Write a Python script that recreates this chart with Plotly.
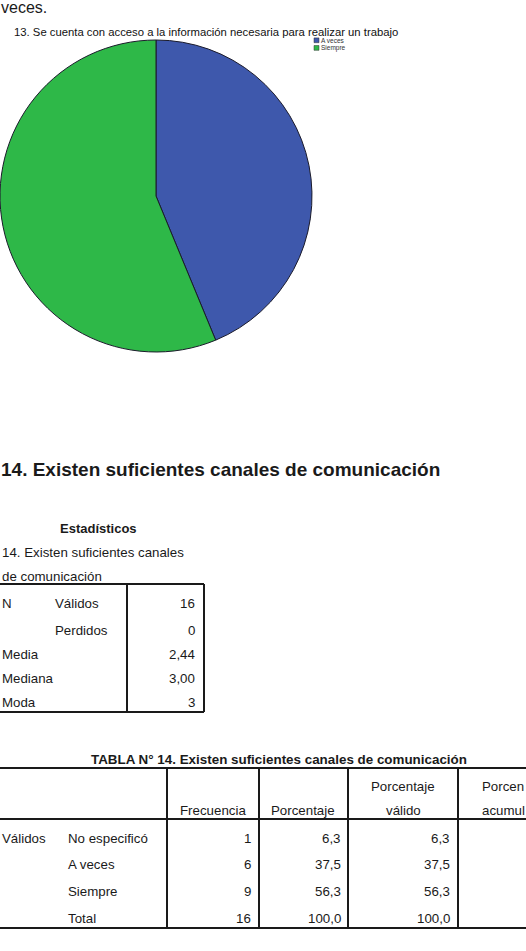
import plotly.graph_objects as go

W, H = 526, 951

# ---------------- data ----------------
pie_title = "13. Se cuenta con acceso a la información necesaria para realizar un trabajo"
pie_labels = ["A veces", "Siempre"]
pie_values = [7, 9]
pie_colors = ["#3E58AC", "#2EB848"]

heading = "14. Existen suficientes canales de comunicación"

stats_title = "Estadísticos"
stats_var = ["14. Existen suficientes canales", "de comunicación"]
stats_row_labels = ["N", "", "Media", "Mediana", "Moda"]
stats_sub_labels = ["Válidos", "Perdidos", "", "", ""]
stats_values = ["16", "0", "2,44", "3,00", "3"]

freq_title = "TABLA N° 14. Existen suficientes canales de comunicación"
freq_group = ["Válidos", "", "", ""]
freq_categories = ["No especificó", "A veces", "Siempre", "Total"]
freq_frecuencia = ["1", "6", "9", "16"]
freq_porcentaje = ["6,3", "37,5", "56,3", "100,0"]
freq_valido = ["6,3", "37,5", "56,3", "100,0"]
# last column is cut by the page edge in the reference: only its visible part is shown
freq_headers = [["", "Frecuencia"], ["", "Porcentaje"], ["Porcentaje", "válido"], ["Porcen", "acumul"]]

# ---------------- helpers ----------------
FONT = "Liberation Sans, Arial, sans-serif"
INK = "#1a1a1a"
FS = 13.3


def px(x):
    return x / W


def py(y):
    return 1 - y / H


annotations = []
shapes = []


def text(x, y, s, size=FS, anchor="left", bold=False, color=INK, pad=1):
    if bold:
        s = "<b>" + s + "</b>"
    annotations.append(dict(
        x=px(x), y=py(y), xref="paper", yref="paper", text=s, showarrow=False,
        xanchor=anchor, yanchor="middle", borderpad=pad,
        font=dict(family=FONT, size=size, color=color),
    ))


def hline(x0, x1, y, w=2):
    shapes.append(dict(type="line", xref="paper", yref="paper", x0=px(x0), x1=px(x1),
                       y0=py(y), y1=py(y), line=dict(color=INK, width=w)))


def vline(x, y0, y1, w=2):
    shapes.append(dict(type="line", xref="paper", yref="paper", x0=px(x), x1=px(x),
                       y0=py(y0), y1=py(y1), line=dict(color=INK, width=w)))


def rect(x0, y0, x1, y1, color):
    shapes.append(dict(type="rect", xref="paper", yref="paper", x0=px(x0), x1=px(x1),
                       y0=py(y1), y1=py(y0), fillcolor=color, line=dict(color="#333", width=0.5)))


fig = go.Figure()

# ---------------- pie ----------------
pie_left, pie_top, pie_size = 0, 40, 312
fig.add_trace(go.Pie(
    labels=pie_labels, values=pie_values, sort=False, direction="clockwise", rotation=0,
    marker=dict(colors=pie_colors, line=dict(color="#1b1b2b", width=1)),
    textinfo="none", hoverinfo="label+value", showlegend=False,
    domain=dict(x=[px(pie_left), px(pie_left + pie_size)], y=[py(pie_top + pie_size), py(pie_top)]),
))

# leading text fragment from previous paragraph
text(-1, 8, "veces.", size=16)
# pie title
text(12, 32, pie_title, size=11.3, color="#111")
# manual legend
for i, (lab, col) in enumerate(zip(pie_labels, pie_colors)):
    yc = 40.3 + i * 7.6
    rect(314, yc - 2.4, 319, yc + 2.4, col)
    text(319.5, yc, lab, size=6.5, color="#333", pad=0)

# ---------------- heading ----------------
text(-1, 469, heading, size=19, bold=True)

# ---------------- stats table ----------------
text(98, 528, stats_title, size=13, anchor="center", bold=True)
text(0, 552, stats_var[0])
text(0, 576, stats_var[1])
stats_top, stats_bot = 584, 712
hline(0, 204, stats_top)
hline(0, 204, stats_bot)
vline(127, stats_top, stats_bot)
vline(204, stats_top, stats_bot)
stats_rows_y = [603, 630, 654, 678, 702]
for yy, lab, sub, val in zip(stats_rows_y, stats_row_labels, stats_sub_labels, stats_values):
    text(0, yy, lab)
    text(53, yy, sub)
    text(197, yy, val, anchor="right")

# ---------------- frequency table ----------------
text(279, 759, freq_title, size=13.4, anchor="center", bold=True)
t_top, t_head, t_bot = 768, 819, 928
col_edges = [167, 259, 348, 458]
hline(0, W, t_top)
hline(0, W, t_head)
hline(0, W, t_bot)
for xe in col_edges:
    vline(xe, t_top, t_bot)
header_x = [213, 303, 403, 480]
for i, (h1, h2) in enumerate(freq_headers):
    anchor = "left" if i == len(freq_headers) - 1 else "center"
    if h1:
        text(header_x[i], 786, h1, anchor=anchor)
    text(header_x[i], 810, h2, anchor=anchor)
rows_y = [838, 864, 891, 918]
for yy, g, cat, f, p, v in zip(rows_y, freq_group, freq_categories, freq_frecuencia,
                               freq_porcentaje, freq_valido):
    text(0, yy, g)
    text(66, yy, cat)
    text(253, yy, f, anchor="right")
    text(343, yy, p, anchor="right")
    text(452, yy, v, anchor="right")

fig.update_layout(
    width=W, height=H, margin=dict(l=0, r=0, t=0, b=0),
    paper_bgcolor="white", plot_bgcolor="white",
    annotations=annotations, shapes=shapes,
    xaxis=dict(visible=False), yaxis=dict(visible=False),
)

fig.write_html("out.html")
